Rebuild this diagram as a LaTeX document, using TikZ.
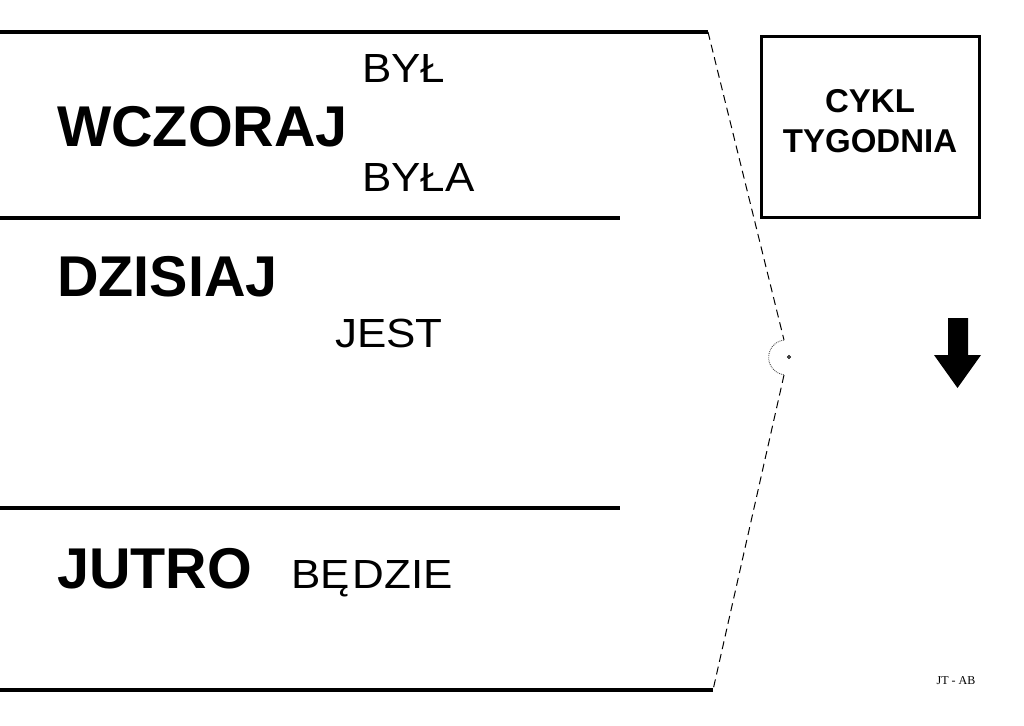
\documentclass[tikz,border=0pt]{standalone}
\usepackage{fontspec}
\setmainfont{Liberation Sans}
\newfontfamily\serifnote{Liberation Serif}
\newfontfamily\widesans[FakeStretch=1.08]{Liberation Sans}
\usetikzlibrary{arrows.meta,positioning,calc}
\tikzset{
  rulethick/.style={line width=3.2pt, line cap=butt},
  foldln/.style={dash pattern=on 8pt off 5pt, line width=1pt},
  dayword/.style={anchor=base west, inner sep=0pt, font=\fontsize{57.5}{57.5}\selectfont\bfseries},
  verbword/.style={anchor=base west, inner sep=0pt, font=\widesans\fontsize{40.7}{40.7}\selectfont},
  cyclebox/.style={draw, line width=3pt, minimum width=218pt, minimum height=180pt,
    align=center, font=\fontsize{33}{40}\selectfont\bfseries},
}
\begin{document}
\begin{tikzpicture}[x=1pt, y=-1pt]
    \useasboundingbox (0,0) rectangle (1024,725);
    % --- outline of the strip ---
    \coordinate (topL) at (0,32);
    \coordinate (topR) at (708,32);
    \coordinate (hingeT) at (784,340);
    \coordinate (hingeB) at (784,375);
    \coordinate (botR) at (713,690);
    \coordinate (botL) at (0,690);
    \coordinate (pin) at (789,357);
    \draw[rulethick] (topL) -- (topR);
    \draw[rulethick] (botL) -- (botR);
    \draw[foldln] (topR) -- (hingeT);
    \draw[foldln] (hingeB) -- (botR);
    % small hinge arc with its pin
    \draw[densely dotted, line width=0.9pt, black!70] (hingeT) arc[start angle=-97, end angle=-263, radius=17.5];
    \draw[line width=0.8pt] (pin) circle (1.5pt);
    % separators
    \coordinate (sepAL) at (0,218);
    \coordinate (sepAR) at (620,218);
    \coordinate (sepBL) at (0,508);
    \coordinate (sepBR) at (620,508);
    \draw[rulethick] (sepAL) -- (sepAR);
    \draw[rulethick] (sepBL) -- (sepBR);
    % --- days and verbs ---
    \node[dayword] (wczoraj) at (57,146) {WCZORAJ};
    \node[verbword] (byl) at (362,82) {BYŁ};
    \node[verbword] (byla) at (362,191) {BYŁA};
    \node[dayword] (dzisiaj) at (57,296) {DZISIAJ};
    \node[verbword] (jest) at (335,347) {JEST};
    \node[dayword] (jutro) at (57,588) {JUTRO};
    \node[verbword] (bedzie) at (291,588) {BĘ\kern3pt DZIE};
    % --- title box and arrow ---
    \node[cyclebox] (cykl) at (870,127) {CYKL\\TYGODNIA\strut};
    \fill (948,318) -- (968,318) -- (968,355) -- (981,355) -- (957.5,388)
      -- (934,355) -- (948,355) -- cycle;
    \node[anchor=base, inner sep=0pt, font=\serifnote\fontsize{12}{12}\selectfont] (sign) at (956,684) {JT - AB};
\end{tikzpicture}
\end{document}
